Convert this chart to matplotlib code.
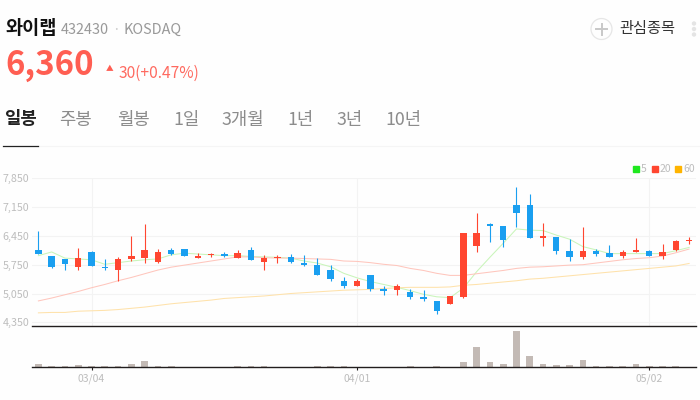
import matplotlib
matplotlib.use("Agg")
import matplotlib.pyplot as plt
from matplotlib.lines import Line2D
from matplotlib.patches import Circle, Rectangle

plt.rcParams['font.family'] = ['Noto Sans CJK KR', 'DejaVu Sans']

# daily candles
opens = [6110, 5950, 5890, 5700, 6070, 5700, 5630, 5890, 5910, 5820,
         6110, 6130, 5910, 5990, 6010, 5910, 6110, 5820, 5910, 5940,
         5790, 5740, 5620, 5360, 5230, 5500, 5160, 5130, 5090, 4970,
         4870, 4800, 4970, 6210, 6750, 6690, 7200, 7200, 6400, 6420,
         6080, 5940, 6080, 6040, 5960, 6060, 6090, 5960, 6110, 6330]
highs = [6570, 5950, 5890, 6160, 6080, 5890, 5930, 6450, 6740, 6130,
         6160, 6130, 6040, 6040, 6060, 6100, 6180, 5990, 5990, 6010,
         5990, 5910, 5740, 5440, 5400, 5500, 5230, 5270, 5150, 5140,
         4870, 4990, 6520, 7010, 6770, 6690, 7640, 7470, 6760, 6420,
         6380, 6670, 6130, 6220, 6110, 6400, 6110, 6250, 6340, 6420]
lows = [6010, 5680, 5610, 5630, 5720, 5630, 5360, 5830, 5800, 5800,
        5990, 5960, 5910, 5930, 5930, 5910, 5870, 5620, 5780, 5800,
        5720, 5510, 5360, 5190, 5230, 5120, 5020, 5010, 4920, 4880,
        4550, 4800, 4930, 6060, 6300, 6180, 6660, 6400, 6210, 6010,
        5840, 5890, 5960, 5930, 5910, 6050, 5960, 5890, 6080, 6250]
closes = [6010, 5700, 5770, 5910, 5720, 5660, 5890, 5970, 6100, 6060,
          6010, 5960, 5960, 6010, 5960, 6040, 5870, 5910, 5940, 5820,
          5740, 5510, 5400, 5230, 5360, 5160, 5120, 5230, 4970, 4920,
          4630, 4990, 6510, 6520, 6690, 6350, 7010, 6400, 6450, 6080,
          5930, 6080, 6010, 5940, 6060, 6110, 5960, 6060, 6330, 6360]

# moving averages
ma5 = [5970, 6060, 5910, 5890, 5870, 5760, 5800, 5840, 5870, 5890,
       5990, 6030, 6010, 5990, 5970, 5970, 5950, 5940, 5930, 5910,
       5840, 5790, 5700, 5540, 5430, 5340, 5270, 5200, 5120, 5030,
       4970, 4950, 5180, 5580, 5930, 6270, 6620, 6590, 6580, 6470,
       6370, 6190, 6110, 6020, 6020, 6020, 6020, 6020, 6090, 6170]
ma20 = [4870, 4940, 5020, 5100, 5190, 5270, 5360, 5440, 5530, 5620,
        5690, 5740, 5790, 5840, 5890, 5940, 5940, 5920, 5910, 5910,
        5900, 5890, 5880, 5840, 5830, 5800, 5760, 5730, 5660, 5610,
        5540, 5490, 5490, 5530, 5570, 5610, 5660, 5690, 5700, 5720,
        5740, 5750, 5790, 5830, 5870, 5900, 5920, 5960, 6040, 6130]
ma60 = [4580, 4590, 4590, 4620, 4630, 4640, 4660, 4690, 4720, 4760,
        4800, 4830, 4860, 4890, 4930, 4950, 4970, 4990, 5020, 5050,
        5070, 5090, 5110, 5130, 5140, 5150, 5170, 5190, 5200, 5200,
        5200, 5210, 5250, 5270, 5300, 5330, 5360, 5400, 5420, 5450,
        5480, 5510, 5540, 5570, 5600, 5630, 5660, 5690, 5720, 5780]

volumes = [10, 4, 3, 6, 3, 3, 3, 10, 18, 3,
           3, 0, 0, 0, 0, 3, 3, 3, 0, 0,
           0, 3, 3, 3, 0, 0, 0, 0, 3, 0,
           3, 1, 16, 61, 16, 10, 109, 33, 10, 7,
           7, 21, 3, 4, 3, 10, 3, 3, 4, 0]

price_ticks = [7850, 7150, 6450, 5750, 5050, 4350]
date_pos = [4, 24, 46]
date_labels = ['03/04', '04/01', '05/02']
tabs = ['일봉', '주봉', '월봉', '1일', '3개월', '1년', '3년', '10년']
tab_x = [4.5, 59.5, 117.5, 173.5, 221.5, 287.5, 336.5, 385.5]
ma_names = ['5', '20', '60']

BG = '#fefefe'
RED = '#ff4630'
BLUE = '#1a9ff0'
GRID = '#f3f3f3'
LABEL = '#bdbdbd'
W, H = 700, 400


def px_x(x):
    return x / W


def px_y(y):
    return 1 - y / H


fig = plt.figure(figsize=(7, 4), dpi=100, facecolor=BG)

# volume panel goes first so the price panel's bottom line stays on top
ax2 = fig.add_axes([px_x(32), px_y(367.3), 664 / W, 41 / H], facecolor='none')
ax2.set_xlim(-0.482, 49.52)
ax2.set_ylim(0, 123)
ax2.bar(range(len(volumes)), volumes, width=0.5, color='#c3bab5')
ax2.set_yticks([])
ax2.set_xticks(date_pos)
ax2.set_xticklabels(date_labels, color=LABEL, fontsize=7.5)
ax2.tick_params(axis='x', length=2.5, width=0.8, color='#221e1e', pad=2)
for side in ['top', 'left', 'right']:
    ax2.spines[side].set_visible(False)
ax2.spines['bottom'].set_color('#221e1e')
ax2.spines['bottom'].set_linewidth(1)

# price panel
ax = fig.add_axes([px_x(32), px_y(326.3), 664 / W, 148 / H], facecolor='none')
ax.set_xlim(-0.482, 49.52)
ax.set_ylim(4253, 7850)

for i in range(len(opens)):
    color = RED if closes[i] >= opens[i] else BLUE
    ax.vlines(i, lows[i], highs[i], color=color, lw=0.8, zorder=4)
    ax.bar(i, abs(closes[i] - opens[i]), bottom=min(opens[i], closes[i]),
           width=0.48, color=color, zorder=4)

days = range(len(ma5))
ax.plot(days, ma5, color='#c9f5ba', lw=0.75, zorder=3)
ax.plot(days, ma20, color='#ffc6bd', lw=0.75, zorder=3)
ax.plot(days, ma60, color='#ffe2ab', lw=0.75, zorder=3)

ax.set_yticks(price_ticks)
ax.set_yticklabels([f'{p:,}' for p in price_ticks], color=LABEL, fontsize=7.7)
ax.tick_params(axis='y', length=0, pad=2)
ax.set_xticks(date_pos)
ax.tick_params(axis='x', length=0, labelbottom=False)
ax.grid(True, color=GRID, lw=0.8)
ax.set_axisbelow(True)
for side in ['top', 'left', 'right']:
    ax.spines[side].set_visible(False)
ax.spines['bottom'].set_color('#221e1e')
ax.spines['bottom'].set_linewidth(1)

# legend
for name, color, sx, tx in zip(ma_names, ['#1fe81f', RED, '#ffb400'],
                               [633, 652, 675], [641, 660, 683]):
    fig.add_artist(Rectangle((px_x(sx), px_y(172)), 6 / W, 6 / H,
                             transform=fig.transFigure, color=color))
    fig.text(px_x(tx), px_y(169), name, color=LABEL, fontsize=7.5,
             va='center', ha='left')

# header
fig.text(px_x(5.5), px_y(29), '와이랩', fontsize=13.4, fontweight='bold',
         color='#111111', va='center')
fig.text(px_x(60.5), px_y(30), '432430', fontsize=10.4, color='#999999', va='center')
fig.text(px_x(116), px_y(30), '·', fontsize=10, color='#cccccc', va='center', ha='center')
fig.text(px_x(124), px_y(30), 'KOSDAQ', fontsize=10.4, color='#999999', va='center')
fig.text(px_x(5), px_y(66), '6,360', fontsize=23.8, fontweight='bold',
         color='#ff5e52', va='center')
fig.text(px_x(110), px_y(69.5), '▲', fontsize=5.5, color='#ff5e52', va='center', ha='center')
fig.text(px_x(119), px_y(73), '30(+0.47%)', fontsize=11.2, color='#ff6a60', va='center')

for k in range(len(tabs)):
    fig.text(px_x(tab_x[k]), px_y(119.5), tabs[k], fontsize=12.8,
             fontweight='bold' if k == 0 else 'normal',
             color='#222222' if k == 0 else '#8c8c8c', va='center')

fig.add_artist(Line2D([px_x(38), 1], [px_y(146)] * 2, color='#f5f5f5', lw=0.8))
fig.add_artist(Line2D([px_x(3), px_x(38)], [px_y(146)] * 2, color='#222222', lw=0.9))

# watchlist button
fig.add_artist(Circle((601.5, 400 - 29), 10.5, transform=None, fill=False,
                      edgecolor='#e6e6e6', lw=0.9))
fig.add_artist(Line2D([px_x(596), px_x(607)], [px_y(29)] * 2, color='#c8c8c8', lw=1.4))
fig.add_artist(Line2D([px_x(601.5)] * 2, [px_y(23.5), px_y(34.5)], color='#c8c8c8', lw=1.4))
fig.text(px_x(619), px_y(29), '관심종목', fontsize=11, color='#333333', va='center')
for dy in [23.5, 29, 34.5]:
    fig.add_artist(Circle((694, 400 - dy), 1.5, transform=None, color='#e4e4e4'))

fig.savefig('out.png', dpi=100, facecolor=BG)
